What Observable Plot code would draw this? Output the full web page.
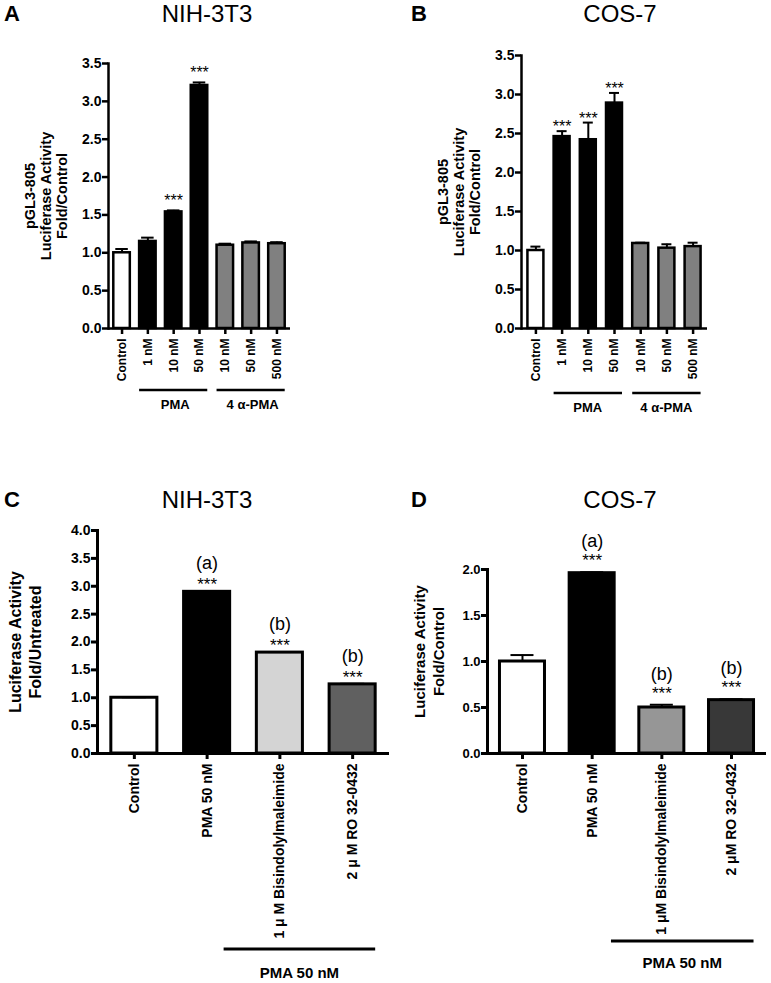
<!DOCTYPE html>
<html><head><meta charset="utf-8">
<script src="https://cdn.jsdelivr.net/npm/d3@7"></script>
<script src="https://cdn.jsdelivr.net/npm/@observablehq/plot@0.6"></script>
<style>
body{margin:0;background:#fff;}
#root{position:relative;width:771px;height:983px;font-family:"Liberation Sans",Arial,Helvetica,sans-serif;color:#000;overflow:hidden;}
.abs{position:absolute;line-height:1;white-space:nowrap;}
</style></head><body><div id="root"></div>
<script>
// ---------- DATA ----------
// Panels A & B (pGL3-805 luciferase, PMA / 4α-PMA)
const topIds = ["Control","PMA 1 nM","PMA 10 nM","PMA 50 nM","4α-PMA 10 nM","4α-PMA 50 nM","4α-PMA 500 nM"];
const topTickLabels = ["Control","1 nM","10 nM","50 nM","10 nM","50 nM","500 nM"];
const topTreatment = ["Control","PMA","PMA","PMA","4α-PMA","4α-PMA","4α-PMA"];
const topBracket = ["","PMA","PMA","PMA","4 α-PMA","4 α-PMA","4 α-PMA"];

const nihValues = [1.00, 1.15, 1.54, 3.21, 1.10, 1.13, 1.12];
const nihErrors = [0.05, 0.05, 0.02, 0.04, 0.02, 0.02, 0.02];
const nihStars  = ["", "", "***", "***", "", "", ""];

const cosValues = [1.00, 2.46, 2.42, 2.89, 1.09, 1.03, 1.05];
const cosErrors = [0.05, 0.07, 0.22, 0.13, 0.01, 0.05, 0.05];
const cosStars  = ["", "***", "***", "***", "", "", ""];

// Panels C & D (inhibitors)
const bottomIds = ["Control","PMA 50 nM","Bisindolylmaleimide","RO 32-0432"];
const nih2TickLabels = ["Control","PMA 50 nM","1 μ M Bisindolylmaleimide","2 μ M RO 32-0432"];
const cos2TickLabels = ["Control","PMA 50 nM","1 μM Bisindolylmaleimide","2 μM RO 32-0432"];
const bottomBracket = ["", "", "PMA 50 nM", "PMA 50 nM"];

const nih2Values  = [1.00, 2.90, 1.81, 1.24];
const nih2Errors  = [0.01, 0.01, 0.01, 0.01];
const nih2Stars   = ["", "***", "***", "***"];
const nih2Letters = ["", "(a)", "(b)", "(b)"];

const cos2Values  = [1.00, 1.96, 0.50, 0.58];
const cos2Errors  = [0.07, 0.01, 0.03, 0.01];
const cos2Stars   = ["", "***", "***", "***"];
const cos2Letters = ["", "(a)", "(b)", "(b)"];

const yTicksTop = [0, 0.5, 1.0, 1.5, 2.0, 2.5, 3.0, 3.5];
const yTicksC = [0, 0.5, 1.0, 1.5, 2.0, 2.5, 3.0, 3.5, 4.0];
const yTicksD = [0, 0.5, 1.0, 1.5, 2.0];

// ---------- STYLE / LAYOUT ----------
const FONT = '"Liberation Sans", Arial, Helvetica, sans-serif';
const root = document.getElementById("root");

function bracketMark(rows, o) {
  return (index, scales, values, dim) => {
    const x = scales.x, bw = x.bandwidth(), step = x.step();
    const base = dim.height - dim.marginBottom;
    const g = d3.create("svg:g");
    const groups = d3.groups(rows.filter(d => d.bracket), d => d.bracket);
    for (const [name, members] of groups) {
      const x1 = x(members[0].id) - o.extendLeft * step;
      const x2 = x(members[members.length - 1].id) + bw;
      g.append("line").attr("x1", x1).attr("x2", x2)
        .attr("y1", base + o.lineOffset).attr("y2", base + o.lineOffset)
        .attr("stroke", "black").attr("stroke-width", o.lineWidth);
      g.append("text").attr("x", (x1 + x2) / 2 + o.textShift).attr("y", base + o.textOffset)
        .attr("text-anchor", "middle").attr("font-size", o.fontSize)
        .attr("font-weight", "bold").attr("font-family", FONT).attr("fill", "black")
        .text(name);
    }
    return g.node();
  };
}

function makePanel(o) {
  const rows = o.ids.map((id, i) => ({
    id, label: o.labels[i], treat: o.treat[i], bracket: o.bracket[i],
    value: o.values[i], top: o.values[i] + o.errors[i],
    star: o.stars[i], letter: o.letters ? o.letters[i] : ""
  }));
  const labelOf = new Map(rows.map(d => [d.id, d.label]));
  const svg = Plot.plot({
    width: o.width, height: o.height,
    marginTop: o.m[0], marginRight: o.m[1], marginBottom: o.m[2], marginLeft: o.m[3],
    style: {fontFamily: FONT, fontSize: o.tickFont + "px", fontWeight: "bold", background: "transparent", overflow: "visible", color: "black"},
    x: {type: "band", domain: o.ids, paddingInner: o.padIn, paddingOuter: o.padOut, round: false, label: null},
    y: {domain: [0, o.yMax], label: null},
    marks: [
      Plot.barY(rows, {x: "id", y: "value", fill: d => o.fills[d.id], stroke: "black", strokeWidth: o.barStroke}),
      Plot.ruleX(rows, {x: "id", y1: "value", y2: "top", stroke: "black", strokeWidth: o.errStroke}),
      Plot.tickY(rows, {x: "id", y: "top", stroke: "black", strokeWidth: o.errStroke, inset: o.capInset}),
      Plot.text(rows.filter(d => d.star), {x: "id", y: "top", text: "star", dy: o.starDy, lineAnchor: "bottom", fontSize: o.starFont, fontWeight: "normal", fill: "black"}),
      Plot.text(rows.filter(d => d.letter), {x: "id", y: "top", text: "letter", dy: o.letterDy, lineAnchor: "bottom", fontSize: o.letterFont, fontWeight: "normal", fill: "black"}),
      Plot.ruleY([0], {stroke: "black", strokeWidth: o.axisStroke}),
      Plot.frame({anchor: "left", stroke: "black", strokeWidth: o.axisStroke}),
      Plot.axisY({ticks: o.yTicks, tickFormat: d3.format(".1f"), tickSize: 6, tickPadding: 1, strokeWidth: o.axisStroke, fontSize: o.tickFont, fontWeight: "bold", label: null}),
      Plot.axisX({tickFormat: id => labelOf.get(id), tickRotate: -90, tickSize: 6, tickPadding: 4, strokeWidth: o.axisStroke, fontSize: o.xFont, fontWeight: "bold", label: null}),
      Plot.text([o.ylabel], {text: d => d, frameAnchor: "left", rotate: -90, dx: o.ylabelDx, dy: o.ylabelDy, textAnchor: "middle", lineAnchor: "middle", lineHeight: o.ylabelLH, fontSize: o.ylabelFont, fontWeight: "bold", fill: "black"}),
      bracketMark(rows, o.br)
    ]
  });
  svg.style.position = "absolute";
  svg.style.left = o.left + "px";
  svg.style.top = o.top + "px";
  svg.style.maxWidth = "none";
  root.appendChild(svg);
}

function addText(text, {x, baseline, size, bold, anchor}) {
  const d = document.createElement("div");
  d.className = "abs";
  d.textContent = text;
  d.style.fontSize = size + "px";
  d.style.fontWeight = bold ? "bold" : "normal";
  d.style.top = (baseline - 0.8465 * size) + "px";
  d.style.left = x + "px";
  if (anchor === "middle") d.style.transform = "translateX(-50%)";
  root.appendChild(d);
}

const topFill = {"Control": "#ffffff", "PMA": "#000000", "4α-PMA": "#808080"};
// Panel A
makePanel({
  left: 0, top: 0, width: 385, height: 430, m: [63, 95, 102, 108],
  ids: topIds, labels: topTickLabels, treat: topTreatment, bracket: topBracket,
  values: nihValues, errors: nihErrors, stars: nihStars,
  fills: Object.fromEntries(topIds.map((id, i) => [id, topFill[topTreatment[i]]])),
  yMax: 3.5, yTicks: yTicksTop, padIn: 0.36, padOut: 0.205,
  barStroke: 2.5, errStroke: 2, capInset: 2, axisStroke: 2.5,
  tickFont: 14, xFont: 12, starFont: 16, starDy: -4, letterFont: 18, letterDy: -20,
  ylabel: "pGL3-805\nLuciferase Activity\nFold/Control", ylabelDx: -63, ylabelDy: 0, ylabelLH: 1.1, ylabelFont: 14.5,
  br: {extendLeft: 0, lineOffset: 62, textOffset: 81, lineWidth: 2.5, fontSize: 13, textShift: 2}
});
// Panel B
makePanel({
  left: 385, top: 0, width: 386, height: 430, m: [55, 64, 102, 136],
  ids: topIds, labels: topTickLabels, treat: topTreatment, bracket: topBracket,
  values: cosValues, errors: cosErrors, stars: cosStars,
  fills: Object.fromEntries(topIds.map((id, i) => [id, topFill[topTreatment[i]]])),
  yMax: 3.5, yTicks: yTicksTop, padIn: 0.39, padOut: 0.245,
  barStroke: 2.5, errStroke: 2, capInset: 3, axisStroke: 2.5,
  tickFont: 14, xFont: 12, starFont: 16, starDy: 1, letterFont: 18, letterDy: -20,
  ylabel: "pGL3-805\nLuciferase Activity\nFold/Control", ylabelDx: -63, ylabelDy: 0, ylabelLH: 1.1, ylabelFont: 14.5,
  br: {extendLeft: 0, lineOffset: 65, textOffset: 84, lineWidth: 2.5, fontSize: 13, textShift: 0}
});
// Panel C
makePanel({
  left: 0, top: 460, width: 395, height: 523, m: [70, 6, 230, 97],
  ids: bottomIds, labels: nih2TickLabels, treat: bottomIds, bracket: bottomBracket,
  values: nih2Values, errors: nih2Errors, stars: nih2Stars, letters: nih2Letters,
  fills: {"Control": "#ffffff", "PMA 50 nM": "#000000", "Bisindolylmaleimide": "#d4d4d4", "RO 32-0432": "#606060"},
  yMax: 4.0, yTicks: yTicksC, padIn: 0.367, padOut: 0.19,
  barStroke: 3, errStroke: 2, capInset: 11, axisStroke: 3,
  tickFont: 14, xFont: 14, starFont: 17, starDy: -1, letterFont: 18, letterDy: -22,
  ylabel: "Luciferase Activity\nFold/Untreated", ylabelDx: -73, ylabelDy: 0, ylabelLH: 1.25, ylabelFont: 16,
  br: {extendLeft: 0.45, lineOffset: 196, textOffset: 225, lineWidth: 3, fontSize: 15, textShift: 0}
});
// Panel D
makePanel({
  left: 385, top: 460, width: 386, height: 523, m: [109, 5, 230, 102],
  ids: bottomIds, labels: cos2TickLabels, treat: bottomIds, bracket: bottomBracket,
  values: cos2Values, errors: cos2Errors, stars: cos2Stars, letters: cos2Letters,
  fills: {"Control": "#ffffff", "PMA 50 nM": "#000000", "Bisindolylmaleimide": "#969696", "RO 32-0432": "#383838"},
  yMax: 2.0, yTicks: yTicksD, padIn: 0.354, padOut: 0.179,
  barStroke: 3, errStroke: 2, capInset: 11, axisStroke: 3,
  tickFont: 13, xFont: 14, starFont: 17, starDy: -6, letterFont: 18, letterDy: -25,
  ylabel: "Luciferase Activity\nFold/Control", ylabelDx: -59, ylabelDy: -10, ylabelLH: 1.3, ylabelFont: 15,
  br: {extendLeft: 0.4, lineOffset: 188, textOffset: 215, lineWidth: 3, fontSize: 15, textShift: 0}
});

// Titles & panel letters
addText("A", {x: 4, baseline: 22, size: 22, bold: true});
addText("NIH-3T3", {x: 207, baseline: 22, size: 24, anchor: "middle"});
addText("B", {x: 411, baseline: 22, size: 22, bold: true});
addText("COS-7", {x: 620, baseline: 22, size: 24, anchor: "middle"});
addText("C", {x: 4, baseline: 508, size: 22, bold: true});
addText("NIH-3T3", {x: 207, baseline: 508, size: 24, anchor: "middle"});
addText("D", {x: 411, baseline: 508, size: 22, bold: true});
addText("COS-7", {x: 620, baseline: 508, size: 24, anchor: "middle"});
</script></body></html>
